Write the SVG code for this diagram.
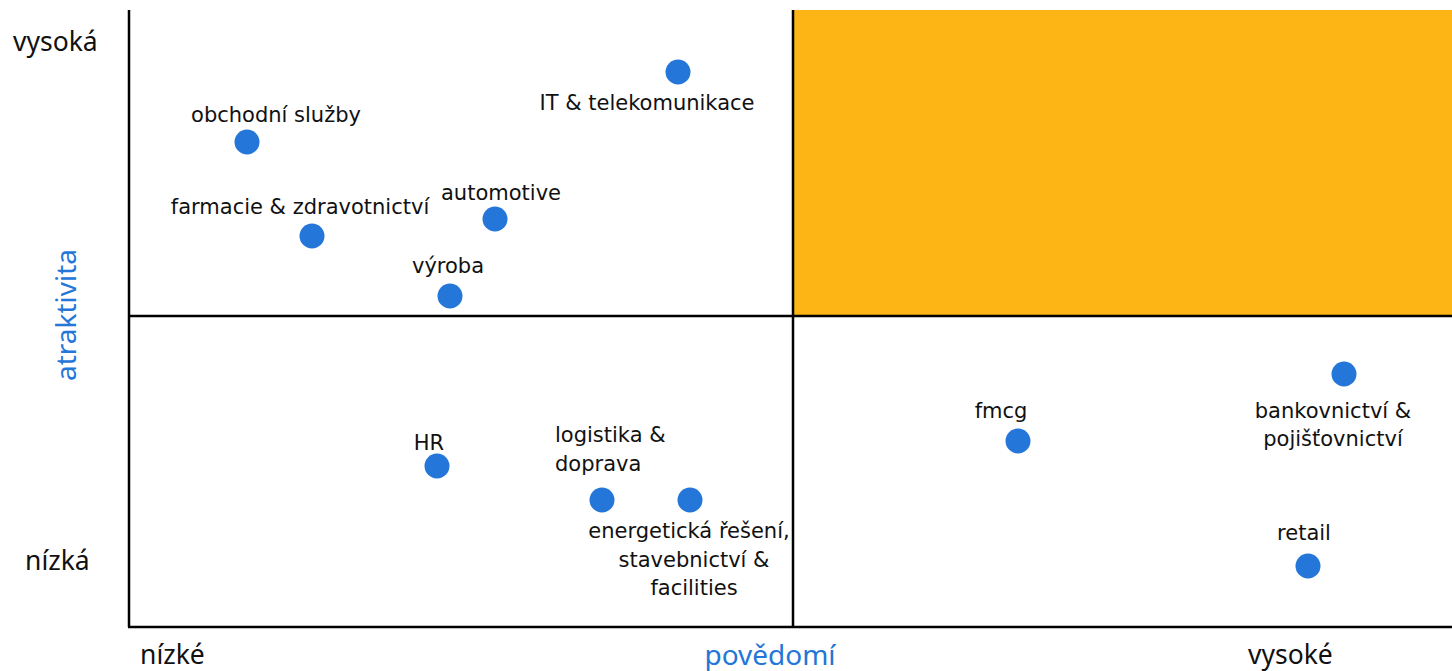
<svg xmlns="http://www.w3.org/2000/svg" width="1452" height="671" viewBox="0 0 1452 671">
<style>
.lbl{font-family:"DejaVu Sans",Verdana,sans-serif;font-size:21px;fill:#111}
.ax{font-family:"Noto Sans","Open Sans",sans-serif;font-size:26.5px;fill:#111}
.axb{font-family:"Noto Sans","Open Sans",sans-serif;font-size:28px;fill:#2476D8}
.dot{fill:#2476D8}
.ln{stroke:#000;stroke-width:2.5;fill:none}
</style>
<rect width="1452" height="671" fill="#fff"/>
<rect x="793" y="10" width="659" height="306" fill="#FDB515"/>
<g id="axes">
<line class="ln" x1="129" y1="10" x2="129" y2="627"/>
<line class="ln" x1="128" y1="627" x2="1452" y2="627"/>
<line class="ln" x1="129" y1="316" x2="1452" y2="316"/>
<line class="ln" x1="793" y1="10" x2="793" y2="627"/>
</g>
<g id="axis-labels">
<text class="ax" x="13" y="51">vysoká</text>
<text class="ax" x="25" y="570">nízká</text>
<text class="ax" x="140" y="664">nízké</text>
<text class="ax" x="1248" y="664">vysoké</text>
<text class="axb" x="770" y="665" text-anchor="middle">povědomí</text>
<text class="axb" transform="translate(76,315) rotate(-90)" text-anchor="middle">atraktivita</text>
</g>
<g id="it"><circle class="dot" cx="678" cy="72" r="12.5"/><text class="lbl" x="647" y="110" text-anchor="middle">IT &amp; telekomunikace</text></g>
<g id="obchodni"><circle class="dot" cx="247" cy="142" r="12.5"/><text class="lbl" x="276" y="122" text-anchor="middle">obchodní služby</text></g>
<g id="automotive"><circle class="dot" cx="495" cy="219" r="12.5"/><text class="lbl" x="501" y="200" text-anchor="middle">automotive</text></g>
<g id="farmacie"><circle class="dot" cx="312" cy="236" r="12.5"/><text class="lbl" x="300" y="214" text-anchor="middle">farmacie &amp; zdravotnictví</text></g>
<g id="vyroba"><circle class="dot" cx="450" cy="296" r="12.5"/><text class="lbl" x="448" y="273" text-anchor="middle">výroba</text></g>
<g id="hr"><circle class="dot" cx="437" cy="466" r="12.5"/><text class="lbl" x="429" y="450" text-anchor="middle">HR</text></g>
<g id="logistika"><circle class="dot" cx="602" cy="500" r="12.5"/><text class="lbl" x="555" y="442">logistika &amp;</text><text class="lbl" x="555" y="471">doprava</text></g>
<g id="energeticka"><circle class="dot" cx="690" cy="500" r="12.5"/><text class="lbl" text-anchor="middle"><tspan x="689" y="538">energetická řešení,</tspan><tspan x="694" y="567">stavebnictví &amp;</tspan><tspan x="694" y="595">facilities</tspan></text></g>
<g id="fmcg"><circle class="dot" cx="1018" cy="441" r="12.5"/><text class="lbl" x="1001" y="418" text-anchor="middle">fmcg</text></g>
<g id="bankovnictvi"><circle class="dot" cx="1344" cy="374" r="12.5"/><text class="lbl" text-anchor="middle"><tspan x="1333" y="418">bankovnictví &amp;</tspan><tspan x="1333" y="446">pojišťovnictví</tspan></text></g>
<g id="retail"><circle class="dot" cx="1308" cy="566" r="12.5"/><text class="lbl" x="1304" y="540" text-anchor="middle">retail</text></g>
</svg>
